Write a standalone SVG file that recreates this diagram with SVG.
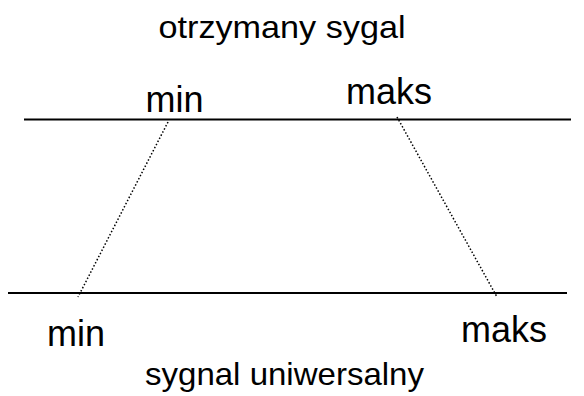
<svg xmlns="http://www.w3.org/2000/svg" width="584" height="396" viewBox="0 0 584 396">
<style>
text{font-family:"Liberation Sans",Arial,sans-serif;fill:#000}
.title{font-size:32px}
.lbl{font-size:36px}
.axis{stroke:#000;stroke-width:2;fill:none}
.dot{stroke:#000;stroke-width:1.5;stroke-dasharray:1.5 2;fill:none}
</style>
<rect width="584" height="396" fill="#fff"/>
<g id="title-top"><text class="title" x="158.5" y="38" textLength="247" lengthAdjust="spacingAndGlyphs">otrzymany sygal</text></g>
<g id="axis-top"><line class="axis" x1="24" y1="119.5" x2="571" y2="119.5"/>
<text class="lbl" x="145.6" y="112">min</text><text class="lbl" x="346" y="104">maks</text></g>
<g id="axis-bottom"><line class="axis" x1="8" y1="293" x2="567" y2="293"/>
<text class="lbl" x="47" y="346">min</text><text class="lbl" x="461" y="342">maks</text></g>
<g id="title-bottom"><text class="title" x="145" y="385" textLength="279" lengthAdjust="spacingAndGlyphs">sygnal uniwersalny</text></g>
<g id="connectors">
<line class="dot" x1="168" y1="122" x2="78" y2="297"/>
<line class="dot" x1="397" y1="117" x2="497" y2="297"/>
</g>
</svg>
